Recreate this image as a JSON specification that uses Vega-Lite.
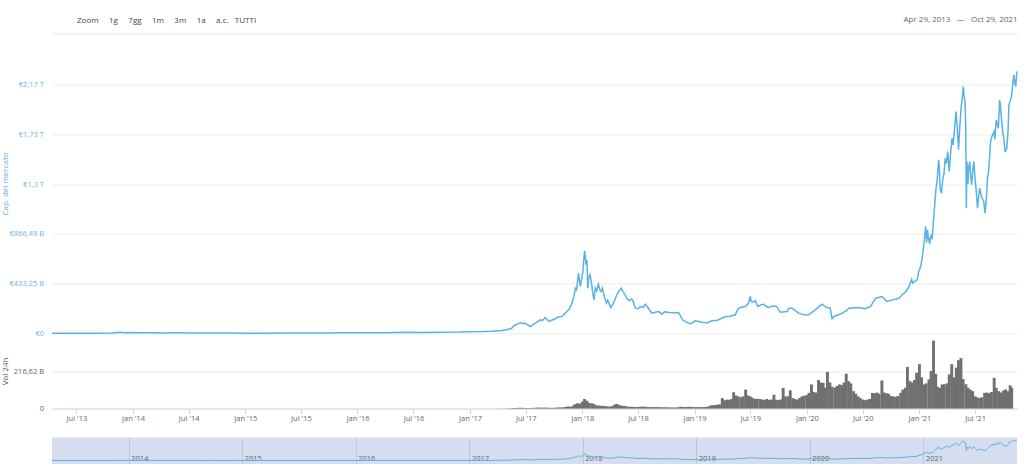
{
  "$schema": "https://vega.github.io/schema/vega-lite/v6.json",
  "background": "white",
  "padding": {"left": 1, "top": 15.5, "right": 6, "bottom": 0},
  "config": {
    "font": "Open Sans",
    "view": {"stroke": null},
    "axis": {"labelFont": "Open Sans", "titleFont": "Open Sans"}
  },
  "datasets": {
    "mcap": [
      {"date":"2013-04-29","cap":1.3},{"date":"2013-06-01","cap":1.2},{"date":"2013-08-01","cap":1.1},{"date":"2013-10-01","cap":1.6},{"date":"2013-11-10","cap":3.5},{"date":"2013-12-01","cap":10},{"date":"2013-12-18","cap":6},
      {"date":"2014-01-05","cap":8.5},{"date":"2014-02-10","cap":7},{"date":"2014-03-15","cap":6},{"date":"2014-04-15","cap":4.5},{"date":"2014-06-01","cap":6},{"date":"2014-08-01","cap":5},{"date":"2014-10-01","cap":3.5},{"date":"2014-12-01","cap":3.5},
      {"date":"2015-01-15","cap":2.5},{"date":"2015-03-01","cap":3},{"date":"2015-06-01","cap":3.3},{"date":"2015-08-01","cap":3.8},{"date":"2015-10-01","cap":3.5},{"date":"2015-11-05","cap":6},{"date":"2015-12-15","cap":6.5},
      {"date":"2016-02-01","cap":6.5},{"date":"2016-04-01","cap":7},{"date":"2016-06-15","cap":11},{"date":"2016-08-01","cap":9},{"date":"2016-10-01","cap":10},{"date":"2016-12-01","cap":12},
      {"date":"2017-01-01","cap":16},{"date":"2017-02-15","cap":17},{"date":"2017-03-15","cap":20},{"date":"2017-04-15","cap":26},{"date":"2017-05-01","cap":32},{"date":"2017-05-17","cap":45},{"date":"2017-05-25","cap":70},{"date":"2017-06-05","cap":82},{"date":"2017-06-14","cap":96},{"date":"2017-06-22","cap":88},{"date":"2017-06-30","cap":90},{"date":"2017-07-16","cap":61},{"date":"2017-08-01","cap":90},{"date":"2017-08-10","cap":105},{"date":"2017-08-17","cap":119},{"date":"2017-08-24","cap":112},{"date":"2017-09-02","cap":139},{"date":"2017-09-15","cap":104},{"date":"2017-09-25","cap":118},{"date":"2017-10-04","cap":128},{"date":"2017-10-15","cap":145},{"date":"2017-10-25","cap":148},{"date":"2017-11-03","cap":170},{"date":"2017-11-11","cap":191},{"date":"2017-11-19","cap":215},{"date":"2017-11-27","cap":264},{"date":"2017-12-03","cap":320},{"date":"2017-12-08","cap":394},{"date":"2017-12-12","cap":380},{"date":"2017-12-18","cap":525},{"date":"2017-12-22","cap":440},{"date":"2017-12-24","cap":409},{"date":"2017-12-28","cap":470},
      {"date":"2018-01-01","cap":539},{"date":"2018-01-04","cap":640},{"date":"2018-01-07","cap":719},{"date":"2018-01-09","cap":660},{"date":"2018-01-11","cap":598},{"date":"2018-01-14","cap":641},{"date":"2018-01-17","cap":394},{"date":"2018-01-20","cap":480},{"date":"2018-01-24","cap":511},{"date":"2018-01-29","cap":440},{"date":"2018-02-02","cap":350},{"date":"2018-02-06","cap":293},{"date":"2018-02-10","cap":394},{"date":"2018-02-14","cap":370},{"date":"2018-02-20","cap":429},{"date":"2018-02-25","cap":380},{"date":"2018-03-01","cap":365},{"date":"2018-03-05","cap":394},{"date":"2018-03-10","cap":330},{"date":"2018-03-18","cap":264},{"date":"2018-03-22","cap":290},{"date":"2018-04-01","cap":226},{"date":"2018-04-10","cap":264},{"date":"2018-04-20","cap":337},{"date":"2018-04-28","cap":370},{"date":"2018-05-05","cap":394},{"date":"2018-05-10","cap":365},{"date":"2018-05-17","cap":337},{"date":"2018-05-24","cap":300},{"date":"2018-05-30","cap":284},{"date":"2018-06-06","cap":300},{"date":"2018-06-10","cap":293},{"date":"2018-06-19","cap":220},{"date":"2018-06-28","cap":215},{"date":"2018-07-05","cap":235},{"date":"2018-07-14","cap":228},{"date":"2018-07-21","cap":255},{"date":"2018-07-31","cap":220},{"date":"2018-08-11","cap":177},{"date":"2018-08-22","cap":185},{"date":"2018-09-02","cap":191},{"date":"2018-09-12","cap":168},{"date":"2018-09-22","cap":190},{"date":"2018-10-04","cap":183},{"date":"2018-10-20","cap":180},{"date":"2018-11-05","cap":183},{"date":"2018-11-18","cap":119},{"date":"2018-11-26","cap":105},{"date":"2018-12-07","cap":90},{"date":"2018-12-15","cap":86},{"date":"2018-12-29","cap":110},
      {"date":"2019-01-09","cap":104},{"date":"2019-01-20","cap":98},{"date":"2019-02-05","cap":92},{"date":"2019-02-20","cap":110},{"date":"2019-03-10","cap":115},{"date":"2019-04-05","cap":148},{"date":"2019-04-20","cap":150},{"date":"2019-05-07","cap":163},{"date":"2019-05-15","cap":215},{"date":"2019-05-23","cap":226},{"date":"2019-06-08","cap":235},{"date":"2019-06-18","cap":265},{"date":"2019-06-24","cap":322},{"date":"2019-06-27","cap":280},{"date":"2019-07-01","cap":272},{"date":"2019-07-10","cap":284},{"date":"2019-07-18","cap":235},{"date":"2019-07-28","cap":250},{"date":"2019-08-06","cap":255},{"date":"2019-08-14","cap":235},{"date":"2019-08-22","cap":226},{"date":"2019-09-05","cap":240},{"date":"2019-09-17","cap":235},{"date":"2019-09-28","cap":185},{"date":"2019-10-20","cap":191},{"date":"2019-10-26","cap":220},{"date":"2019-11-05","cap":220},{"date":"2019-11-26","cap":177},{"date":"2019-12-17","cap":160},{"date":"2019-12-29","cap":163},
      {"date":"2020-01-19","cap":206},{"date":"2020-02-09","cap":255},{"date":"2020-02-25","cap":226},{"date":"2020-03-07","cap":220},{"date":"2020-03-13","cap":128},{"date":"2020-03-19","cap":148},{"date":"2020-04-15","cap":177},{"date":"2020-04-29","cap":200},{"date":"2020-05-06","cap":220},{"date":"2020-06-07","cap":226},{"date":"2020-06-27","cap":215},{"date":"2020-07-15","cap":235},{"date":"2020-07-31","cap":307},{"date":"2020-08-21","cap":322},{"date":"2020-09-05","cap":280},{"date":"2020-09-12","cap":284},{"date":"2020-10-14","cap":307},{"date":"2020-10-24","cap":335},{"date":"2020-11-05","cap":365},{"date":"2020-11-14","cap":400},{"date":"2020-11-24","cap":470},{"date":"2020-11-27","cap":440},{"date":"2020-12-12","cap":467},{"date":"2020-12-17","cap":540},{"date":"2020-12-23","cap":583},{"date":"2020-12-27","cap":640},
      {"date":"2021-01-01","cap":742},{"date":"2021-01-08","cap":931},{"date":"2021-01-11","cap":790},{"date":"2021-01-14","cap":900},{"date":"2021-01-17","cap":829},{"date":"2021-01-21","cap":780},{"date":"2021-01-25","cap":859},{"date":"2021-01-29","cap":820},{"date":"2021-02-02","cap":974},{"date":"2021-02-06","cap":1110},{"date":"2021-02-10","cap":1250},{"date":"2021-02-14","cap":1330},{"date":"2021-02-19","cap":1511},{"date":"2021-02-21","cap":1450},{"date":"2021-02-24","cap":1250},{"date":"2021-02-28","cap":1220},{"date":"2021-03-04","cap":1337},{"date":"2021-03-08","cap":1390},{"date":"2021-03-12","cap":1525},{"date":"2021-03-16","cap":1480},{"date":"2021-03-20","cap":1583},{"date":"2021-03-25","cap":1409},{"date":"2021-03-29","cap":1560},{"date":"2021-04-03","cap":1699},{"date":"2021-04-06","cap":1640},{"date":"2021-04-10","cap":1743},{"date":"2021-04-13","cap":1850},{"date":"2021-04-16","cap":1931},{"date":"2021-04-20","cap":1780},{"date":"2021-04-24","cap":1598},{"date":"2021-04-28","cap":1800},{"date":"2021-05-02","cap":1960},{"date":"2021-05-06","cap":2050},{"date":"2021-05-09","cap":2149},{"date":"2021-05-12","cap":2060},{"date":"2021-05-15","cap":2018},{"date":"2021-05-17","cap":1800},{"date":"2021-05-19","cap":1090},{"date":"2021-05-21","cap":1496},{"date":"2021-05-24","cap":1300},{"date":"2021-05-27","cap":1450},{"date":"2021-05-30","cap":1496},{"date":"2021-06-02","cap":1380},{"date":"2021-06-05","cap":1294},{"date":"2021-06-09","cap":1420},{"date":"2021-06-12","cap":1496},{"date":"2021-06-16","cap":1350},{"date":"2021-06-20","cap":1235},{"date":"2021-06-24","cap":1090},{"date":"2021-06-28","cap":1200},{"date":"2021-07-01","cap":1264},{"date":"2021-07-05","cap":1210},{"date":"2021-07-09","cap":1177},{"date":"2021-07-14","cap":1150},{"date":"2021-07-18","cap":1047},{"date":"2021-07-22","cap":1150},{"date":"2021-07-26","cap":1351},{"date":"2021-07-30","cap":1420},{"date":"2021-08-05","cap":1670},{"date":"2021-08-10","cap":1720},{"date":"2021-08-16","cap":1757},{"date":"2021-08-19","cap":1690},{"date":"2021-08-23","cap":1859},{"date":"2021-08-30","cap":1786},{"date":"2021-09-03","cap":2033},{"date":"2021-09-06","cap":1980},{"date":"2021-09-09","cap":1873},{"date":"2021-09-13","cap":1760},{"date":"2021-09-17","cap":1685},{"date":"2021-09-21","cap":1580},{"date":"2021-09-26","cap":1612},{"date":"2021-09-30","cap":1750},{"date":"2021-10-03","cap":1990},{"date":"2021-10-08","cap":2030},{"date":"2021-10-12","cap":2077},{"date":"2021-10-16","cap":2190},{"date":"2021-10-19","cap":2251},{"date":"2021-10-22","cap":2180},{"date":"2021-10-25","cap":2149},{"date":"2021-10-27","cap":2230},{"date":"2021-10-29","cap":2280}
    ],
    "vol": [
      {"date":"2017-04-01","vol":0.5},{"date":"2017-04-08","vol":0.6},{"date":"2017-04-16","vol":0.6},{"date":"2017-04-23","vol":0.8},
      {"date":"2017-05-01","vol":1},{"date":"2017-05-08","vol":1.5},{"date":"2017-05-16","vol":2},{"date":"2017-05-23","vol":3},
      {"date":"2017-06-01","vol":3},{"date":"2017-06-08","vol":4},{"date":"2017-06-16","vol":4},{"date":"2017-06-23","vol":3.5},
      {"date":"2017-07-01","vol":3},{"date":"2017-07-08","vol":2.5},{"date":"2017-07-16","vol":3},{"date":"2017-07-23","vol":3.5},
      {"date":"2017-08-01","vol":4},{"date":"2017-08-08","vol":5},{"date":"2017-08-16","vol":5},{"date":"2017-08-23","vol":4.5},
      {"date":"2017-09-01","vol":5},{"date":"2017-09-08","vol":4.5},{"date":"2017-09-16","vol":4},{"date":"2017-09-23","vol":3.5},
      {"date":"2017-10-01","vol":4},{"date":"2017-10-08","vol":5},{"date":"2017-10-16","vol":6},{"date":"2017-10-23","vol":6},
      {"date":"2017-11-01","vol":7},{"date":"2017-11-08","vol":9},{"date":"2017-11-16","vol":12},{"date":"2017-11-23","vol":10},
      {"date":"2017-12-01","vol":15},{"date":"2017-12-08","vol":25},{"date":"2017-12-16","vol":30},{"date":"2017-12-23","vol":28},
      {"date":"2018-01-01","vol":40},{"date":"2018-01-08","vol":55},{"date":"2018-01-16","vol":45},{"date":"2018-01-23","vol":32},
      {"date":"2018-02-01","vol":30},{"date":"2018-02-08","vol":25},{"date":"2018-02-16","vol":18},{"date":"2018-02-23","vol":16},
      {"date":"2018-03-01","vol":16},{"date":"2018-03-08","vol":15},{"date":"2018-03-16","vol":14},{"date":"2018-03-23","vol":12},
      {"date":"2018-04-01","vol":12},{"date":"2018-04-08","vol":14},{"date":"2018-04-16","vol":22},{"date":"2018-04-23","vol":26},
      {"date":"2018-05-01","vol":20},{"date":"2018-05-08","vol":16},{"date":"2018-05-16","vol":15},{"date":"2018-05-23","vol":13},
      {"date":"2018-06-01","vol":10},{"date":"2018-06-08","vol":10},{"date":"2018-06-16","vol":9},{"date":"2018-06-23","vol":8},
      {"date":"2018-07-01","vol":9},{"date":"2018-07-08","vol":10},{"date":"2018-07-16","vol":11},{"date":"2018-07-23","vol":10},
      {"date":"2018-08-01","vol":9},{"date":"2018-08-08","vol":8},{"date":"2018-08-16","vol":8},{"date":"2018-08-23","vol":8},
      {"date":"2018-09-01","vol":8},{"date":"2018-09-08","vol":8},{"date":"2018-09-16","vol":7},{"date":"2018-09-23","vol":7},
      {"date":"2018-10-01","vol":7},{"date":"2018-10-08","vol":6},{"date":"2018-10-16","vol":6},{"date":"2018-10-23","vol":6},
      {"date":"2018-11-01","vol":6},{"date":"2018-11-08","vol":7},{"date":"2018-11-16","vol":10},{"date":"2018-11-23","vol":9},
      {"date":"2018-12-01","vol":8},{"date":"2018-12-08","vol":9},{"date":"2018-12-16","vol":10},{"date":"2018-12-23","vol":9},
      {"date":"2019-01-01","vol":8},{"date":"2019-01-08","vol":8},{"date":"2019-01-16","vol":8},{"date":"2019-01-23","vol":8},
      {"date":"2019-02-01","vol":8},{"date":"2019-02-08","vol":9},{"date":"2019-02-16","vol":12},{"date":"2019-02-23","vol":18},
      {"date":"2019-03-01","vol":18},{"date":"2019-03-08","vol":20},{"date":"2019-03-16","vol":22},{"date":"2019-03-23","vol":24},
      {"date":"2019-04-01","vol":60},{"date":"2019-04-08","vol":48},{"date":"2019-04-16","vol":51},{"date":"2019-04-23","vol":50},
      {"date":"2019-05-01","vol":55},{"date":"2019-05-08","vol":94},{"date":"2019-05-16","vol":75},{"date":"2019-05-23","vol":70},
      {"date":"2019-06-01","vol":65},{"date":"2019-06-08","vol":70},{"date":"2019-06-16","vol":109},{"date":"2019-06-23","vol":75},
      {"date":"2019-07-01","vol":70},{"date":"2019-07-08","vol":62},{"date":"2019-07-16","vol":55},{"date":"2019-07-23","vol":56},
      {"date":"2019-08-01","vol":55},{"date":"2019-08-08","vol":52},{"date":"2019-08-16","vol":50},{"date":"2019-08-23","vol":55},
      {"date":"2019-09-01","vol":50},{"date":"2019-09-08","vol":52},{"date":"2019-09-16","vol":80},{"date":"2019-09-23","vol":51},
      {"date":"2019-10-01","vol":48},{"date":"2019-10-08","vol":52},{"date":"2019-10-16","vol":119},{"date":"2019-10-23","vol":70},
      {"date":"2019-11-01","vol":70},{"date":"2019-11-08","vol":105},{"date":"2019-11-16","vol":60},{"date":"2019-11-23","vol":55},
      {"date":"2019-12-01","vol":51},{"date":"2019-12-08","vol":60},{"date":"2019-12-16","vol":70},{"date":"2019-12-23","vol":74},
      {"date":"2020-01-01","vol":78},{"date":"2020-01-08","vol":90},{"date":"2020-01-16","vol":139},{"date":"2020-01-23","vol":95},
      {"date":"2020-02-01","vol":92},{"date":"2020-02-08","vol":164},{"date":"2020-02-16","vol":150},{"date":"2020-02-23","vol":148},
      {"date":"2020-03-01","vol":120},{"date":"2020-03-08","vol":212},{"date":"2020-03-16","vol":150},{"date":"2020-03-23","vol":125},
      {"date":"2020-04-01","vol":120},{"date":"2020-04-08","vol":130},{"date":"2020-04-16","vol":139},{"date":"2020-04-23","vol":135},
      {"date":"2020-05-01","vol":150},{"date":"2020-05-08","vol":201},{"date":"2020-05-16","vol":158},{"date":"2020-05-23","vol":145},
      {"date":"2020-06-01","vol":100},{"date":"2020-06-08","vol":85},{"date":"2020-06-16","vol":70},{"date":"2020-06-23","vol":60},
      {"date":"2020-07-01","vol":52},{"date":"2020-07-08","vol":48},{"date":"2020-07-16","vol":51},{"date":"2020-07-23","vol":55},
      {"date":"2020-08-01","vol":90},{"date":"2020-08-08","vol":88},{"date":"2020-08-16","vol":92},{"date":"2020-08-23","vol":85},
      {"date":"2020-09-01","vol":162},{"date":"2020-09-08","vol":92},{"date":"2020-09-16","vol":88},{"date":"2020-09-23","vol":85},
      {"date":"2020-10-01","vol":72},{"date":"2020-10-08","vol":70},{"date":"2020-10-16","vol":68},{"date":"2020-10-23","vol":72},
      {"date":"2020-11-01","vol":90},{"date":"2020-11-08","vol":109},{"date":"2020-11-16","vol":120},{"date":"2020-11-23","vol":240},
      {"date":"2020-12-01","vol":158},{"date":"2020-12-08","vol":150},{"date":"2020-12-16","vol":165},{"date":"2020-12-23","vol":207},
      {"date":"2021-01-01","vol":256},{"date":"2021-01-08","vol":180},{"date":"2021-01-16","vol":139},{"date":"2021-01-23","vol":145},
      {"date":"2021-02-01","vol":168},{"date":"2021-02-08","vol":217},{"date":"2021-02-16","vol":392},{"date":"2021-02-23","vol":200},
      {"date":"2021-03-01","vol":125},{"date":"2021-03-08","vol":119},{"date":"2021-03-16","vol":139},{"date":"2021-03-23","vol":140},
      {"date":"2021-04-01","vol":145},{"date":"2021-04-08","vol":197},{"date":"2021-04-16","vol":256},{"date":"2021-04-23","vol":180},
      {"date":"2021-05-01","vol":236},{"date":"2021-05-08","vol":279},{"date":"2021-05-16","vol":291},{"date":"2021-05-23","vol":170},
      {"date":"2021-06-01","vol":140},{"date":"2021-06-08","vol":120},{"date":"2021-06-16","vol":109},{"date":"2021-06-23","vol":100},
      {"date":"2021-07-01","vol":70},{"date":"2021-07-08","vol":64},{"date":"2021-07-16","vol":60},{"date":"2021-07-23","vol":65},
      {"date":"2021-08-01","vol":90},{"date":"2021-08-08","vol":92},{"date":"2021-08-16","vol":88},{"date":"2021-08-23","vol":95},
      {"date":"2021-09-01","vol":177},{"date":"2021-09-08","vol":119},{"date":"2021-09-16","vol":100},{"date":"2021-09-23","vol":92},
      {"date":"2021-10-01","vol":104},{"date":"2021-10-08","vol":110},{"date":"2021-10-16","vol":100},{"date":"2021-10-23","vol":134},{"date":"2021-10-28","vol":120}
    ]
  },
  "spacing": 15,
  "vconcat": [
    {
      "spacing": 0,
      "bounds": "flush",
      "vconcat": [
        {
          "width": 965,
          "height": 300,
          "title": {
            "text": "Zoom\u00a0\u00a0\u00a0\u00a0\u00a01g\u00a0\u00a0\u00a0\u00a0\u00a07gg\u00a0\u00a0\u00a0\u00a0\u00a01m\u00a0\u00a0\u00a0\u00a0\u00a03m\u00a0\u00a0\u00a0\u00a0\u00a01a\u00a0\u00a0\u00a0\u00a0\u00a0a.c.\u00a0\u00a0\u00a0TUTTI",
            "anchor": "start",
            "frame": "group",
            "dx": 25,
            "offset": -9,
            "fontSize": 8,
            "fontWeight": "normal",
            "color": "#444444"
          },
          "data": {"name": "mcap"},
          "mark": {"type": "line", "color": "#58b2e8", "strokeWidth": 1.5},
          "encoding": {
            "x": {
              "field": "date", "type": "temporal",
              "scale": {"type": "utc", "domain": [{"year": 2013, "month": 4, "date": 29, "utc": true}, {"year": 2021, "month": 10, "date": 29, "utc": true}]},
              "axis": {"orient": "top", "labels": false, "ticks": false, "grid": false, "domain": true, "domainColor": "#e6e6e6",
                       "title": "Apr 29, 2013\u00a0\u00a0\u00a0\u2014\u00a0\u00a0\u00a0Oct 29, 2021", "titleAnchor": "end", "titleFontSize": 8, "titleFontWeight": "normal", "titleColor": "#666666", "titlePadding": 10}
            },
            "y": {
              "field": "cap", "type": "quantitative",
              "scale": {"domain": [0, 2610], "nice": false},
              "axis": {
                "values": [0, 433.25, 866.49, 1299.74, 1732.98, 2166.23],
                "labelExpr": "datum.value < 1 ? '€0' : datum.value < 500 ? '€433,25 B' : datum.value < 1000 ? '€866,49 B' : datum.value < 1500 ? '€1,3 T' : datum.value < 2000 ? '€1,73 T' : '€2,17 T'",
                "domain": false, "ticks": false, "grid": true, "gridColor": "#ebebeb",
                "labelColor": "#6cb4e4", "labelFontSize": 7.5, "labelPadding": 8.5,
                "minExtent": 40, "maxExtent": 40,
                "title": "Cap. del mercato", "titleColor": "#5aaee6", "titleFontSize": 8, "titleFontWeight": "normal", "titlePadding": 3
              }
            }
          }
        },
        {
          "width": 965,
          "height": 75,
          "data": {"name": "vol"},
          "mark": {"type": "bar", "color": "#707070", "width": 2.9},
          "encoding": {
            "x": {
              "field": "date", "type": "temporal",
              "scale": {"type": "utc", "domain": [{"year": 2013, "month": 4, "date": 29, "utc": true}, {"year": 2021, "month": 10, "date": 29, "utc": true}]},
              "axis": {"orient": "bottom", "tickCount": {"interval": "month", "step": 6},
                       "labelExpr": "utcFormat(datum.value, \"%b '%y\")",
                       "domainColor": "#ccd6eb", "tickColor": "#ccd6eb", "tickSize": 5, "grid": false,
                       "labelColor": "#666666", "labelFontSize": 7.5, "labelPadding": 1, "title": null}
            },
            "y": {
              "field": "vol", "type": "quantitative",
              "scale": {"domain": [0, 433.25], "nice": false},
              "axis": {
                "values": [0, 216.62],
                "labelExpr": "datum.value < 1 ? '0' : '216,62 B'",
                "domain": false, "ticks": false, "grid": true, "gridColor": "#ebebeb",
                "labelColor": "#666666", "labelFontSize": 7.5, "labelPadding": 8.5,
                "minExtent": 40, "maxExtent": 40,
                "title": "Vol 24h", "titleColor": "#555555", "titleFontSize": 8, "titleFontWeight": "normal", "titlePadding": 3
              }
            }
          }
        }
      ]
    },
    {
      "width": 965,
      "height": 30,
      "view": {"fill": "#d6ddee", "stroke": null},
      "data": {"name": "mcap"},
      "mark": {"type": "line", "color": "#58b2e8", "strokeWidth": 1},
      "encoding": {
        "x": {
          "field": "date", "type": "temporal",
          "scale": {"type": "utc", "domain": [{"year": 2013, "month": 4, "date": 29, "utc": true}, {"year": 2021, "month": 10, "date": 29, "utc": true}]},
          "axis": {"orient": "bottom", "tickCount": {"interval": "year", "step": 1},
                   "labelExpr": "utcFormat(datum.value, '%Y')",
                   "grid": true, "gridColor": "#bcc5da", "domain": false, "ticks": false, "tickSize": 0,
                   "labelAlign": "left", "labelBaseline": "alphabetic", "labelPadding": -7, "labelOffset": 2,
                   "labelColor": "#666666", "labelFontSize": 7.5, "title": null}
        },
        "y": {
          "field": "cap", "type": "quantitative",
          "scale": {"domain": [-770, 2530], "nice": false, "zero": false},
          "axis": {"labels": false, "ticks": false, "domain": false, "grid": false,
                   "minExtent": 40, "maxExtent": 40,
                   "title": "\u00a0", "titleFontSize": 8, "titlePadding": 3}
        }
      }
    }
  ]
}
